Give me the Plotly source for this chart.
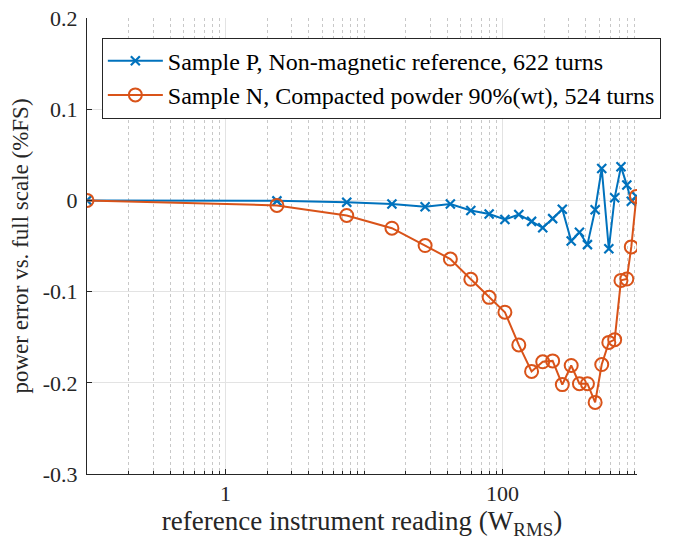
import plotly.graph_objects as go

# reference instrument reading (W_RMS)
x_vals = [0.1, 2.35, 7.5, 15.9, 27.6, 42, 59, 80, 104, 131, 162, 195, 230, 270,
          313, 359, 410, 466, 520, 585, 645, 716, 789, 850, 925]

# Sample P, non-magnetic reference
p_vals = [0, -0.0005, -0.002, -0.004, -0.007, -0.004, -0.011, -0.015, -0.021,
          -0.0155, -0.023, -0.030, -0.020, -0.0097, -0.0445, -0.035, -0.0485,
          -0.0103, 0.035, -0.053, 0.003, 0.037, 0.0168, -0.001, 0.0044]

# Sample N, compacted powder
n_vals = [0, -0.0055, -0.0165, -0.0305, -0.0495, -0.0643, -0.0865, -0.1063,
          -0.1226, -0.1585, -0.1875, -0.177, -0.176, -0.202, -0.181, -0.201,
          -0.201, -0.2215, -0.180, -0.1557, -0.1527, -0.0877, -0.0862, -0.051,
          0.0044]

x_ticks = [1, 100]
x_ticktext = ["1", "100"]
y_ticks = [-0.3, -0.2, -0.1, 0, 0.1, 0.2]
y_ticktext = ["-0.3", "-0.2", "-0.1", "0", "0.1", "0.2"]
x_minor = [m * 10 ** e for e in (-1, 0, 1, 2) for m in range(2, 10)] + [10]

FONT = "Liberation Serif"

fig = go.Figure()
fig.add_trace(go.Scatter(
    x=x_vals, y=p_vals, mode="lines+markers",
    name="Sample P, Non-magnetic reference, 622 turns",
    line=dict(color="#0072BD", width=2),
    marker=dict(symbol="x-thin-open", size=9, color="#0072BD",
                line=dict(color="#0072BD", width=2.2)),
))
fig.add_trace(go.Scatter(
    x=x_vals, y=n_vals, mode="lines+markers",
    name="Sample N, Compacted powder 90%(wt), 524 turns",
    line=dict(color="#D95319", width=2),
    marker=dict(symbol="circle-open", size=13, color="#D95319",
                line=dict(color="#D95319", width=2)),
))

# page body adds an 8px offset; margins compensate so the plot area matches
fig.update_layout(
    width=665, height=536,
    margin=dict(l=79, r=36, t=10, b=70, autoexpand=False),
    paper_bgcolor="white", plot_bgcolor="white",
    font=dict(family=FONT, size=20, color="#262626"),
    showlegend=True,
    legend=dict(
        x=0.027, y=0.957, xanchor="left", yanchor="top",
        bgcolor="white", bordercolor="#262626", borderwidth=1,
        font=dict(family=FONT, size=24, color="#000000"),
        itemwidth=55, tracegroupgap=0,
    ),
    xaxis=dict(
        type="log", range=[-1, 2.9706],
        tickvals=x_ticks, ticktext=x_ticktext,
        ticks="inside", ticklen=5, tickcolor="#262626",
        showline=True, linecolor="#262626", linewidth=1,
        showgrid=True, gridcolor="#e3e3e3", gridwidth=1,
        zeroline=False, mirror=False,
        minor=dict(tickvals=x_minor, ticks="inside", ticklen=3,
                   tickcolor="#262626", showgrid=True,
                   gridcolor="#c8c8c8", griddash="dot", gridwidth=1),
        title=dict(text="reference instrument reading (W<sub>RMS</sub>)",
                   font=dict(family=FONT, size=27, color="#262626"), standoff=4),
        tickfont=dict(family=FONT, size=22, color="#262626"),
        ticklabeloverflow="allow",
    ),
    yaxis=dict(
        range=[-0.3, 0.2],
        tickvals=y_ticks, ticktext=y_ticktext,
        ticks="inside", ticklen=5, tickcolor="#262626",
        showline=True, linecolor="#262626", linewidth=1,
        showgrid=True, gridcolor="#e3e3e3", gridwidth=1,
        zeroline=False,
        title=dict(text="power error vs. full scale (%FS)",
                   font=dict(family=FONT, size=23, color="#262626"), standoff=8),
        tickfont=dict(family=FONT, size=22, color="#262626"),
        ticklabelstandoff=4,
        ticklabeloverflow="allow",
    ),
)

fig.write_html("out.html")
